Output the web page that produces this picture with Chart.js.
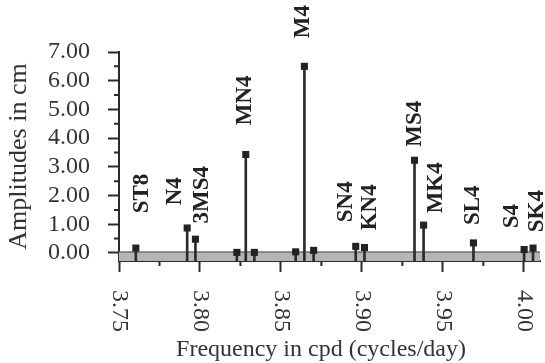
<!DOCTYPE html>
<html>
<head>
<meta charset="utf-8">
<script src="https://cdn.jsdelivr.net/npm/chart.js@4/dist/chart.umd.min.js"></script>
<style>
html, body { margin: 0; padding: 0; background: #fff; }
</style>
</head>
<body>
<canvas id="ampChart" width="545" height="363"></canvas>
<script>
// tidal constituents in the quarter-diurnal band
const names = ['ST8', 'N4', '3MS4', '', 'MN4', '', '', 'M4', '', 'SN4', 'KN4', 'MS4', 'MK4', 'SL4', 'S4', 'SK4'];
const freqs = [3.7604, 3.7921, 3.7972, 3.8228, 3.8283, 3.8336, 3.8591, 3.8645, 3.8702, 3.8962, 3.9016, 3.9325, 3.9381, 3.9689, 4.0002, 4.0057];
const amps  = [0.17, 0.87, 0.48, 0.02, 3.43, 0.02, 0.04, 6.50, 0.09, 0.23, 0.19, 3.23, 0.97, 0.35, 0.12, 0.17];
const noiseLevel = 0.03;

const xTicks = [3.75, 3.80, 3.85, 3.90, 3.95, 4.00];
const yTicks = [0, 1, 2, 3, 4, 5, 6, 7];
const xMin = 3.75, xMax = 4.01, yMin = -0.28, yMax = 7;
const xTitle = 'Frequency in cpd (cycles/day)';

// where each name sits: pixel shift from its stem, and the foot of the text in cm
const labelShift = [6, -12, 7, 0, -1, 0, 0, -1, 0, -10, 6, 1, 12, 0, -12, 4];
const labelFoot  = [1.38, 1.66, 1.03, 0, 4.45, 0, 0, 7.48, 0, 1.07, 0.79, 3.7, 1.38, 0.97, 0.86, 0.72];

const ink = '#2b2b2b';
const serif = 'Liberation Serif';

const points = freqs.map((f, i) => ({ x: f, y: amps[i] }));

const extras = {
    id: 'extras',
    afterDraw(chart) {
        const ctx = chart.ctx;
        const xs = chart.scales.x, ys = chart.scales.y;
        const area = chart.chartArea;
        ctx.save();
        ctx.strokeStyle = ink;
        ctx.lineWidth = 2;
        // minor ticks
        ctx.beginPath();
        for (let v = 3.775; v < xMax; v += 0.05) {
            const px = xs.getPixelForValue(v);
            ctx.moveTo(px, area.bottom);
            ctx.lineTo(px, area.bottom + 5);
        }
        for (let v = 0.5; v < yMax; v += 1) {
            const py = ys.getPixelForValue(v);
            ctx.moveTo(area.left, py);
            ctx.lineTo(area.left - 5, py);
        }
        ctx.stroke();

        // x tick labels, turned clockwise
        ctx.fillStyle = '#333';
        ctx.font = '24px "' + serif + '"';
        ctx.textAlign = 'left';
        ctx.textBaseline = 'middle';
        xTicks.forEach(v => {
            ctx.save();
            ctx.translate(xs.getPixelForValue(v), area.bottom + 29);
            ctx.rotate(Math.PI / 2);
            ctx.fillText(v.toFixed(2), 0, 0);
            ctx.restore();
        });

        // x axis title
        ctx.textAlign = 'center';
        ctx.textBaseline = 'alphabetic';
        ctx.fillText(xTitle, 321, 356);

        // constituent names
        ctx.fillStyle = '#222';
        ctx.font = 'bold 23px "' + serif + '"';
        ctx.textAlign = 'left';
        ctx.textBaseline = 'middle';
        names.forEach((n, i) => {
            if (!n) return;
            ctx.save();
            ctx.translate(xs.getPixelForValue(freqs[i]) + labelShift[i], ys.getPixelForValue(labelFoot[i]));
            ctx.rotate(-Math.PI / 2);
            ctx.fillText(n, 0, 0);
            ctx.restore();
        });
        ctx.restore();
    }
};

new Chart('ampChart', {
    type: 'scatter',
    data: {
        datasets: [{
            type: 'scatter',
            data: points,
            pointStyle: 'rect',
            pointRadius: 5,
            pointHoverRadius: 5,
            backgroundColor: '#222',
            borderWidth: 0,
            order: 1
        }, {
            type: 'bar',
            data: points,
            base: yMin,
            barThickness: 2,
            backgroundColor: ink,
            order: 2
        }, {
            type: 'line',
            data: [{ x: xMin, y: noiseLevel }, { x: xMax, y: noiseLevel }],
            borderColor: '#707070',
            borderWidth: 1.5,
            backgroundColor: '#b5b5b5',
            fill: 'start',
            pointRadius: 0,
            order: 3
        }]
    },
    options: {
        responsive: false,
        animation: false,
        devicePixelRatio: 1,
        layout: { padding: { top: 52, right: 2, left: 0, bottom: 0 } },
        plugins: { legend: { display: false }, tooltip: { enabled: false } },
        scales: {
            x: {
                type: 'linear',
                min: xMin,
                max: xMax,
                offset: false,
                afterBuildTicks: s => { s.ticks = xTicks.map(v => ({ value: v })); },
                afterFit: s => { s.height = 102; },
                ticks: { display: false },
                grid: { drawOnChartArea: false, offset: false, tickLength: 11, tickWidth: 2, tickColor: ink },
                border: { color: ink, width: 2 }
            },
            y: {
                type: 'linear',
                min: yMin,
                max: yMax,
                afterBuildTicks: s => { s.ticks = yTicks.map(v => ({ value: v })); },
                afterFit: s => { s.width = 119; },
                ticks: {
                    autoSkip: false,
                    padding: 18,
                    color: '#333',
                    font: { family: serif, size: 24 },
                    callback: v => v.toFixed(2)
                },
                grid: { drawOnChartArea: false, tickLength: 11, tickWidth: 2, tickColor: ink },
                border: { color: ink, width: 2 },
                title: {
                    display: true,
                    text: 'Amplitudes in cm',
                    color: '#333',
                    font: { family: serif, size: 26 },
                    padding: { top: 4, bottom: 0 }
                }
            }
        }
    },
    plugins: [extras]
});
</script>
</body>
</html>
